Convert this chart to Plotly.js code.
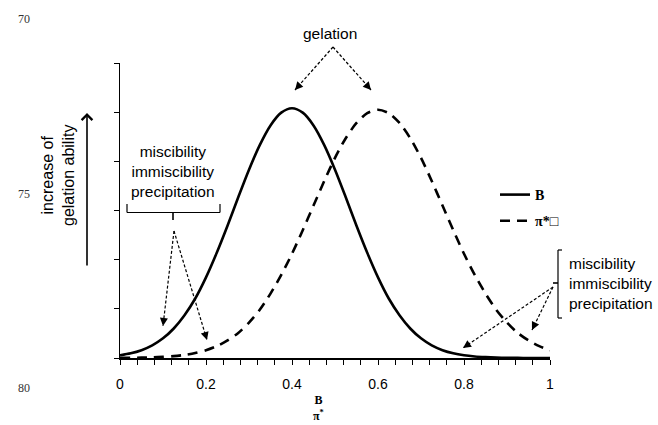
<!DOCTYPE html>
<html>
<head>
<meta charset="utf-8">
<script src="https://cdn.plot.ly/plotly-3.0.1.min.js"></script>
<style>html,body{margin:0;padding:0;background:#fff;}#chart{width:658px;height:425px;}</style>
</head>
<body>
<div id="chart"></div>
<script>
// x positions (fraction)
const xVals = [0, 0.025, 0.05, 0.075, 0.1, 0.125, 0.15, 0.175, 0.2, 0.225, 0.25, 0.275, 0.3, 0.325, 0.35, 0.375, 0.4,
  0.425, 0.45, 0.475, 0.5, 0.525, 0.55, 0.575, 0.6, 0.625, 0.65, 0.675, 0.7, 0.725, 0.75, 0.775, 0.8,
  0.825, 0.85, 0.875, 0.9, 0.925, 0.95, 0.975, 1];
// series "B" (solid)
const seriesB = [0.055, 0.095, 0.159, 0.257, 0.40, 0.60, 0.87, 1.21, 1.64, 2.14, 2.69, 3.27, 3.83, 4.33, 4.73, 4.99, 5.08,
  4.99, 4.73, 4.33, 3.83, 3.27, 2.69, 2.14, 1.64, 1.21, 0.87, 0.60, 0.40, 0.257, 0.159, 0.095, 0.055,
  0.031, 0.017, 0.0086, 0.0043, 0.002, 0.001, 0.0004, 0];
// series "π*" (dashed)
const seriesPi = [0.002, 0.004, 0.007, 0.013, 0.023, 0.038, 0.063, 0.101, 0.158, 0.241, 0.357, 0.51, 0.72, 0.98, 1.31, 1.69, 2.12,
  2.60, 3.10, 3.60, 4.07, 4.47, 4.78, 4.98, 5.05, 4.98, 4.78, 4.47, 4.07, 3.60, 3.10, 2.60, 2.12,
  1.69, 1.31, 0.98, 0.72, 0.51, 0.357, 0.241, 0.158];
const seriesNames = ["<b>B</b>", "<b>π*□</b>"];
const xTickVals = [0, 0.2, 0.4, 0.6, 0.8, 1];
const xTickText = ["0", "0.2", "0.4", "0.6", "0.8", "1"];
const sideLabels = ["70", "75", "80"];
const stateLines = ["miscibility", "immiscibility", "precipitation"];

const W = 658, H = 425, L = 120, R = 108, T = 63, B = 67;
const pw = W - L - R, ph = H - T - B;
const px = v => (v - L) / pw;          // pixel -> paper x
const py = v => (H - B - v) / ph;      // pixel -> paper y

const traces = [
  {x: xVals, y: seriesB, type: 'scatter', mode: 'lines', name: seriesNames[0],
   line: {color: '#000', width: 2.6, shape: 'spline', smoothing: 0.8}, legendgroup: 'a'},
  {x: xVals, y: seriesPi, type: 'scatter', mode: 'lines', name: seriesNames[1],
   line: {color: '#000', width: 2.6, dash: '10px,7px', shape: 'spline', smoothing: 0.8}, legendgroup: 'b'}
];

const sans = 'Liberation Sans, Arial, sans-serif';
const serif = 'Liberation Serif, Times New Roman, serif';
const shapes = [];
const annotations = [];
const dashLine = (x0, y0, x1, y1) => shapes.push({type: 'line', xref: 'paper', yref: 'paper',
  x0: px(x0), y0: py(y0), x1: px(x1), y1: py(y1), line: {color: '#000', width: 1.2, dash: '3px,2px'}});
const solidLine = (x0, y0, x1, y1, w) => shapes.push({type: 'line', xref: 'paper', yref: 'paper',
  x0: px(x0), y0: py(y0), x1: px(x1), y1: py(y1), line: {color: '#000', width: w || 1.2}});
const head = (sx, sy, ex, ey) => {
  const dx = sx - ex, dy = sy - ey, d = Math.hypot(dx, dy);
  annotations.push({xref: 'paper', yref: 'paper', x: px(ex), y: py(ey), ax: dx / d * 9, ay: dy / d * 9,
    text: '', showarrow: true, arrowhead: 2, arrowsize: 1.6, arrowwidth: 1, arrowcolor: '#000'});
};
const dashedArrow = (sx, sy, ex, ey) => { dashLine(sx, sy, ex, ey); head(sx, sy, ex, ey); };
const label = (x, y, text, extra) => annotations.push(Object.assign({xref: 'paper', yref: 'paper',
  x: px(x), y: py(y), text: text, showarrow: false, xanchor: 'center', yanchor: 'middle',
  font: {family: sans, size: 15.5, color: '#000'}}, extra || {}));

// gelation arrows
dashedArrow(333, 47, 295, 90);
dashedArrow(333, 47, 371, 90);
label(330, 33, 'gelation');

// left bracket + text
solidLine(127, 204, 127, 212.5); solidLine(127, 212.5, 220, 212.5); solidLine(220, 212.5, 220, 204);
solidLine(173, 212.5, 173, 220, 1.6);
label(173, 171, stateLines.join('<br>'), {align: 'center'});
dashedArrow(174, 231, 163, 326);
dashedArrow(174, 231, 207, 340);

// right bracket + text
solidLine(558, 250, 558, 318); solidLine(558, 250, 562, 250); solidLine(558, 318, 562, 318);
solidLine(553, 283, 558, 283, 1.6);
label(567, 283, stateLines.join('<br>'), {xanchor: 'left', align: 'left'});
dashedArrow(553, 287, 463, 348);
dashedArrow(553, 287, 532, 330);

// up arrow and rotated label
annotations.push({xref: 'paper', yref: 'paper', x: px(87), y: py(113), ax: 0, ay: 154, text: '', showarrow: true,
  arrowhead: 4, arrowsize: 1.3, arrowwidth: 1.6, arrowcolor: '#000'});
label(58, 175, 'increase of<br>gelation ability', {textangle: -90, font: {family: sans, size: 16, color: '#000'}});

// side numbers
[[19, 0], [194, 1], [388, 2]].forEach(([y, i]) => label(24, y, sideLabels[i],
  {font: {family: serif, size: 12, color: '#333'}}));

// x title (two lines)
label(318, 408, '<b>B</b><br><b>π<sup>*</sup></b>', {font: {family: serif, size: 12, color: '#000'}});

const layout = {
  width: W, height: H, margin: {l: L, r: R, t: T, b: B},
  paper_bgcolor: '#fff', plot_bgcolor: '#fff', showlegend: true,
  legend: {x: px(495), y: py(179), xanchor: 'left', yanchor: 'top', bgcolor: 'rgba(0,0,0,0)',
    font: {family: serif, size: 14, color: '#000'}, tracegroupgap: 5},
  xaxis: {range: [0, 1], tickvals: xTickVals, ticktext: xTickText, ticks: 'outside', ticklen: 5, tickwidth: 1,
    tickcolor: '#000', showline: true, linecolor: '#000', linewidth: 2, showgrid: false, zeroline: false,
    ticklabelstandoff: 7,
    minor: {dtick: 0.04, ticks: 'outside', ticklen: 5, tickwidth: 1, tickcolor: '#000', showgrid: false},
    tickfont: {family: sans, size: 14, color: '#000'}},
  yaxis: {range: [0, 6], dtick: 1, ticks: 'outside', ticklen: 5, tickwidth: 1, tickcolor: '#000',
    showline: true, linecolor: '#000', linewidth: 1.5, showgrid: false, zeroline: false, showticklabels: false},
  shapes: shapes, annotations: annotations
};
Plotly.newPlot('chart', traces, layout, {displayModeBar: false, staticPlot: true});
</script>
</body>
</html>
